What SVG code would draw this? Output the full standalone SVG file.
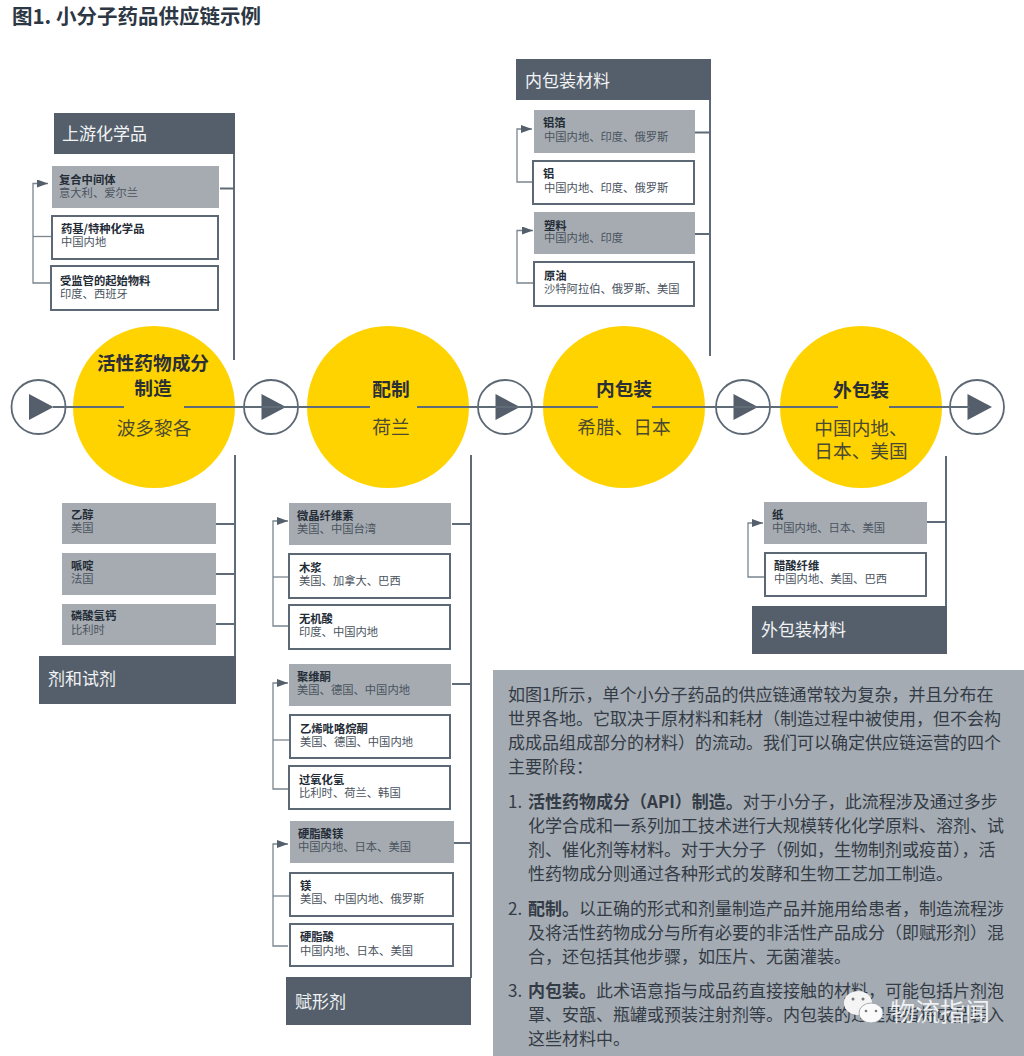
<svg xmlns="http://www.w3.org/2000/svg" width="1024" height="1056" viewBox="0 0 1024 1056">
<style>
text{font-family:"Noto Sans CJK SC","Liberation Sans",sans-serif;fill:#39424e}
.title{font-size:20.5px;font-weight:700;fill:#2e3744}
.head{font-size:17px;fill:#f2f3f4}
.bar{fill:#545f6b}
.g{fill:#a5abb1}
.w{fill:#fff;stroke:#5d6875;stroke-width:2}
.b{font-size:11.3px;font-weight:700;fill:#232b36}
.s{font-size:11.3px;fill:#4a535e}
.y{fill:#ffd300}
.ct{font-size:18.7px;font-weight:700;fill:#2a2f36;text-anchor:middle}
.cs{font-size:18.7px;fill:#4b4a30;text-anchor:middle}
.p{font-size:17px;fill:#333b46}
.pb{font-weight:700}
.l{fill:none;stroke:#606b78;stroke-width:2}
.t{fill:none;stroke:#7b858f;stroke-width:1.3}
.r{fill:#fff;stroke:#5d6875;stroke-width:1.800}
.a{fill:#545f6b}
.wm{font-size:25px;fill:#fff;fill-opacity:.85}
</style>
<defs>
<marker id="ah" markerWidth="12" markerHeight="9" refX="11" refY="4" orient="auto" markerUnits="userSpaceOnUse"><path d="M0 0L11 4L0 8Z" class="a"/></marker>
<g id="play"><circle r="27" class="r"/><path d="M-9.500-13L15 0L-9.500 13Z" class="a"/></g>
</defs>
<text id="fig-title" class="title" x="12" y="24">图1. 小分子药品供应链示例</text>

<g id="stage-api"><circle class="y" cx="154" cy="407" r="81"/><text class="ct" x="153" y="370">活性药物成分</text><text class="ct" x="153" y="395">制造</text><text class="cs" x="154" y="435">波多黎各</text></g>
<g id="stage-form"><circle class="y" cx="388" cy="407" r="81"/><text class="ct" x="391" y="396">配制</text><text class="cs" x="391" y="434">荷兰</text></g>
<g id="stage-inner"><circle class="y" cx="624" cy="407" r="81"/><text class="ct" x="624" y="396">内包装</text><text class="cs" x="624" y="434">希腊、日本</text></g>
<g id="stage-outer"><circle class="y" cx="861" cy="407" r="81"/><text class="ct" x="861" y="397">外包装</text><text class="cs" x="861" y="435">中国内地、</text><text class="cs" x="861" y="458">日本、美国</text></g>

<use id="play-1" href="#play" x="38.500" y="407"/>
<use id="play-2" href="#play" x="271" y="407"/>
<use id="play-3" href="#play" x="505" y="407"/>
<use id="play-4" href="#play" x="743" y="407"/>
<use id="play-5" href="#play" x="977" y="407"/>

<g id="connectors">
<path class="l" d="M234 154V360M220 188.500H234"/>
<path class="l" d="M235 455V656M216 524H235M216 574H235M216 624H235"/>
<path class="l" d="M710 100V356M695 132.500H710M695 234H710"/>
<path class="l" d="M471 455V978M452 524H471M452 684H471M454 843H471"/>
<path class="l" d="M946 456V606M927 522H946"/>
<path class="t" d="M50 283H33V183.500H48" marker-end="url(#ah)"/>
<path class="t" d="M33 236.500H51"/>
<path class="t" d="M532 182H517V129H532" marker-end="url(#ah)"/>
<path class="t" d="M533 283H517V230.500H533" marker-end="url(#ah)"/>
<path class="t" d="M288 626H273V521H288" marker-end="url(#ah)"/>
<path class="t" d="M273 577H289"/>
<path class="t" d="M288 789H273V683H288" marker-end="url(#ah)"/>
<path class="t" d="M273 740H290"/>
<path class="t" d="M288 946H273V844H288" marker-end="url(#ah)"/>
<path class="t" d="M273 896H289"/>
<path class="t" d="M764 577H748V523H763" marker-end="url(#ah)"/>
<path class="l" d="M53 407H124M184 407H370M417 407H598M652 407H838M889 407H970"/>
</g>

<g id="hdr-upstream"><rect class="bar" x="54" y="113" width="181" height="41"/><text class="head" x="62" y="140">上游化学品</text></g>
<g id="n-fuhe"><rect class="g" x="52" y="166" width="167" height="42"/><text class="b" x="59" y="184">复合中间体</text><text class="s" x="59" y="197">意大利、爱尔兰</text></g>
<g id="n-yaoji"><rect class="w" x="52" y="216" width="166" height="43"/><text class="b" x="61" y="233">药基/特种化学品</text><text class="s" x="61" y="246">中国内地</text></g>
<g id="n-shoujian"><rect class="w" x="51" y="266" width="167" height="44"/><text class="b" x="60" y="285">受监管的起始物料</text><text class="s" x="60" y="298">印度、西班牙</text></g>

<g id="n-yichun"><rect class="g" x="62" y="503" width="154" height="41"/><text class="b" x="71" y="519">乙醇</text><text class="s" x="71" y="532">美国</text></g>
<g id="n-biding"><rect class="g" x="62" y="553" width="154" height="42"/><text class="b" x="71" y="570">哌啶</text><text class="s" x="71" y="583">法国</text></g>
<g id="n-linsuan"><rect class="g" x="62" y="604" width="154" height="41"/><text class="b" x="71" y="620">磷酸氢钙</text><text class="s" x="71" y="634">比利时</text></g>
<g id="hdr-reagent"><rect class="bar" x="39" y="656" width="197" height="48"/><text class="head" x="48" y="685">剂和试剂</text></g>

<g id="hdr-inner"><rect class="bar" x="516" y="59" width="195" height="41"/><text class="head" x="525" y="87">内包装材料</text></g>
<g id="n-lvbo"><rect class="g" x="534" y="110" width="161" height="43"/><text class="b" x="543" y="127">铝箔</text><text class="s" x="544" y="141">中国内地、印度、俄罗斯</text></g>
<g id="n-lv"><rect class="w" x="533" y="161" width="161" height="43"/><text class="b" x="543" y="178">铝</text><text class="s" x="544" y="192">中国内地、印度、俄罗斯</text></g>
<g id="n-suliao"><rect class="g" x="534" y="212" width="161" height="42"/><text class="b" x="544" y="230">塑料</text><text class="s" x="544" y="242">中国内地、印度</text></g>
<g id="n-yuanyou"><rect class="w" x="534" y="262" width="160" height="44"/><text class="b" x="544" y="280">原油</text><text class="s" x="544" y="293">沙特阿拉伯、俄罗斯、美国</text></g>

<g id="n-weijing"><rect class="g" x="289" y="503" width="162" height="42"/><text class="b" x="297" y="520">微晶纤维素</text><text class="s" x="297" y="533">美国、中国台湾</text></g>
<g id="n-mujiang"><rect class="w" x="289" y="554" width="161" height="44"/><text class="b" x="299" y="572">木浆</text><text class="s" x="299" y="585">美国、加拿大、巴西</text></g>
<g id="n-wuji"><rect class="w" x="289" y="605" width="161" height="44"/><text class="b" x="299" y="623">无机酸</text><text class="s" x="299" y="636">印度、中国内地</text></g>
<g id="n-juwei"><rect class="g" x="289" y="664" width="162" height="42"/><text class="b" x="297" y="681">聚维酮</text><text class="s" x="297" y="694">美国、德国、中国内地</text></g>
<g id="n-yixi"><rect class="w" x="290" y="715" width="160" height="43"/><text class="b" x="300" y="733">乙烯吡咯烷酮</text><text class="s" x="300" y="746">美国、德国、中国内地</text></g>
<g id="n-guoyang"><rect class="w" x="289" y="766" width="161" height="43"/><text class="b" x="299" y="784">过氧化氢</text><text class="s" x="299" y="797">比利时、荷兰、韩国</text></g>
<g id="n-yingzhimei"><rect class="g" x="290" y="821" width="164" height="42"/><text class="b" x="298" y="838">硬脂酸镁</text><text class="s" x="298" y="851">中国内地、日本、美国</text></g>
<g id="n-mei"><rect class="w" x="290" y="873" width="163" height="43"/><text class="b" x="300" y="890">镁</text><text class="s" x="300" y="903">美国、中国内地、俄罗斯</text></g>
<g id="n-yingzhi"><rect class="w" x="290" y="924" width="163" height="42"/><text class="b" x="300" y="941">硬脂酸</text><text class="s" x="300" y="955">中国内地、日本、美国</text></g>
<g id="hdr-excipient"><rect class="bar" x="286" y="977" width="185" height="48"/><text class="head" x="295" y="1008">赋形剂</text></g>

<g id="n-zhi"><rect class="g" x="764" y="502" width="163" height="42"/><text class="b" x="772" y="519">纸</text><text class="s" x="772" y="532">中国内地、日本、美国</text></g>
<g id="n-cusuan"><rect class="w" x="765" y="553" width="161" height="43"/><text class="b" x="774" y="570">醋酸纤维</text><text class="s" x="774" y="583">中国内地、美国、巴西</text></g>
<g id="hdr-outer"><rect class="bar" x="752" y="606" width="195" height="48"/><text class="head" x="761" y="636">外包装材料</text></g>

<g id="textbox"><rect x="493" y="670" width="531" height="386" fill="#a5abb2"/>
<text class="p" x="508" y="701">如图1所示，单个小分子药品的供应链通常较为复杂，并且分布在</text>
<text class="p" x="508" y="725">世界各地。它取决于原材料和耗材（制造过程中被使用，但不会构</text>
<text class="p" x="508" y="749">成成品组成部分的材料）的流动。我们可以确定供应链运营的四个</text>
<text class="p" x="508" y="773">主要阶段：</text>
<text class="p" x="508" y="808">1.<tspan class="pb" x="528">活性药物成分（API）制造。</tspan>对于小分子，此流程涉及通过多步</text>
<text class="p" x="528" y="832">化学合成和一系列加工技术进行大规模转化化学原料、溶剂、试</text>
<text class="p" x="528" y="856">剂、催化剂等材料。对于大分子（例如，生物制剂或疫苗），活</text>
<text class="p" x="528" y="880">性药物成分则通过各种形式的发酵和生物工艺加工制造。</text>
<text class="p" x="508" y="915">2.<tspan class="pb" x="528">配制。</tspan>以正确的形式和剂量制造产品并施用给患者，制造流程涉</text>
<text class="p" x="528" y="939">及将活性药物成分与所有必要的非活性产品成分（即赋形剂）混</text>
<text class="p" x="528" y="963">合，还包括其他步骤，如压片、无菌灌装。</text>
<text class="p" x="508" y="997">3.<tspan class="pb" x="528">内包装。</tspan>此术语意指与成品药直接接触的材料，可能包括片剂泡</text>
<text class="p" x="528" y="1021">罩、安瓿、瓶罐或预装注射剂等。内包装的过程是指将成品装入</text>
<text class="p" x="528" y="1045">这些材料中。</text>
</g>

<g id="watermark">
<ellipse cx="858" cy="1003" rx="14" ry="12" fill="#f4f4f4"/><ellipse cx="871" cy="1013" rx="12" ry="10" fill="#fafafa" stroke="#a5abb2"/>
<circle cx="853" cy="999" r="1.500" fill="#777"/><circle cx="863" cy="999" r="1.500" fill="#777"/><circle cx="866" cy="1011" r="1.300" fill="#777"/><circle cx="876" cy="1011" r="1.300" fill="#777"/>
<text class="wm" x="890" y="1021">物流指闻</text></g>
</svg>
